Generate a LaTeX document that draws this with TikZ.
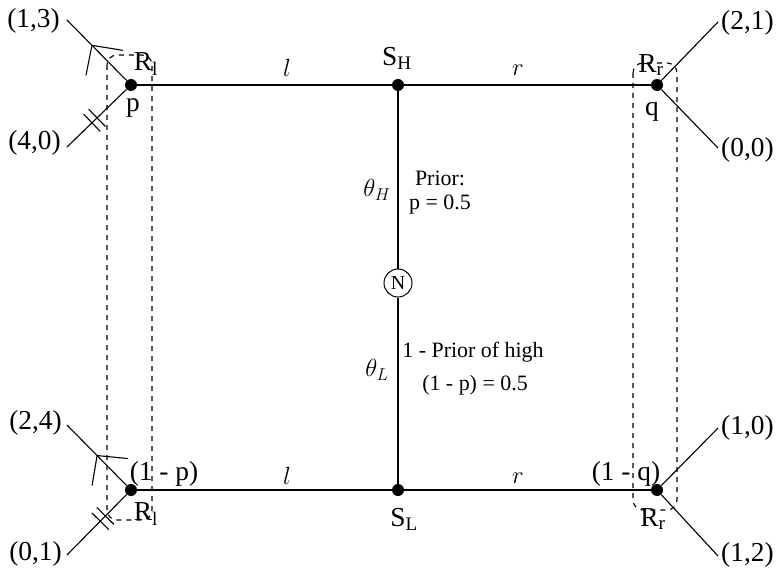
\documentclass[tikz,border=0pt]{standalone}
\usepackage{fontspec}
\setmainfont{Liberation Serif}
\usetikzlibrary{calc}
\begin{document}
\begin{tikzpicture}[x=1bp,y=-1bp,
  edge/.style={line width=1.1bp},
  dot/.style={circle,fill=black,inner sep=0pt,minimum size=12bp},
  lab/.style={font=\fontsize{27.5}{30}\selectfont, inner sep=0pt},
  small/.style={font=\fontsize{22}{24}\selectfont, inner sep=0pt},
  greek/.style={font=\fontsize{25}{27}\selectfont, inner sep=0pt},
  infoset/.style={draw, dash pattern=on 5bp off 5bp, line width=1.1bp, rounded corners=10bp}]
\useasboundingbox (0,0) rectangle (780,575);

% information sets
\draw[infoset] (107,55) rectangle (152,520);
\draw[infoset] (633,63) rectangle (677,510);

% decision nodes
\node[dot] (p) at (131,85) {};
\node[dot] (sh) at (398,85) {};
\node[dot] (q) at (657,85) {};
\node[dot] (pl) at (131,490) {};
\node[dot] (sl) at (398,490) {};
\node[dot] (ql) at (657,490) {};
\node[circle,draw,fill=white,line width=1bp,minimum size=28bp,inner sep=0pt,
      font=\fontsize{20}{21}\selectfont] (n) at (398,283) {N};

% terminal ends
\coordinate (e13) at (67,20);
\coordinate (e40) at (67,147);
\coordinate (e24) at (67,425);
\coordinate (e01) at (67,555);
\coordinate (e21) at (718,22);
\coordinate (e00) at (718,148);
\coordinate (e10) at (718,428);
\coordinate (e12) at (718,556);

% edges
\draw[edge] (p) -- (sh) -- (q);
\draw[edge] (pl) -- (sl) -- (ql);
\draw[edge] (sh) -- (n) -- (sl);
\draw[edge] (p) -- (e13);
\draw[edge] (p) -- (e40);
\draw[edge] (pl) -- (e24);
\draw[edge] (pl) -- (e01);
\draw[edge] (q) -- (e21);
\draw[edge] (q) -- (e00);
\draw[edge] (ql) -- (e10);
\draw[edge] (ql) -- (e12);

% chevrons
\coordinate (c13) at ($(p)!0.61!(e13)$);
\draw[edge] ($(c13)+(-6,30)$) -- (c13) -- ($(c13)+(31,5)$);
\coordinate (c24) at ($(pl)!0.53!(e24)$);
\draw[edge] ($(c24)+(-5,30)$) -- (c24) -- ($(c24)+(31,3)$);

% double ticks
\foreach \t in {0.53,0.61}{
  \coordinate (m) at ($(p)!\t!(e40)$);
  \draw[edge] ($(m)!12bp!90:(p)$) -- ($(m)!12bp!-90:(p)$);
}
\foreach \t in {0.40,0.48}{
  \coordinate (m) at ($(pl)!\t!(e01)$);
  \draw[edge] ($(m)!12bp!90:(pl)$) -- ($(m)!12bp!-90:(pl)$);
}

% payoffs
\node[lab,anchor=east] (l13) at (60,21) {(1,3)};
\node[lab,anchor=east] (l40) at (61,143) {(4,0)};
\node[lab,anchor=east] (l24) at (62,423) {(2,4)};
\node[lab,anchor=east] (l01) at (62,554) {(0,1)};
\node[lab,anchor=west] (l21) at (721,23) {(2,1)};
\node[lab,anchor=west] (l00) at (721,150) {(0,0)};
\node[lab,anchor=west] (l10) at (721,428) {(1,0)};
\node[lab,anchor=west] (l12) at (721,555) {(1,2)};

% node labels
\node[lab] (rl1) at (146,64) {R\textsubscript{l}};
\node[lab] (pp) at (133,108) {p};
\node[lab] (rr1) at (651,65) {R\textsubscript{r}};
\node[lab] (qq) at (652,112) {q};
\node[lab] (pq) at (164,474) {(1 - p)};
\node[lab] (rl2) at (146,514) {R\textsubscript{l}};
\node[lab] (qq2) at (626,474) {(1 - q)};
\node[lab] (rr2) at (653,519) {R\textsubscript{r}};
\node[lab] (shl) at (397,58) {S\textsubscript{H}};
\node[lab] (sll) at (404,519) {S\textsubscript{L}};
\node[lab] (lt) at (287,68) {$l$};
\node[lab] (rt) at (518,70) {$r$};
\node[lab] (lb) at (287,476) {$l$};
\node[lab] (rb) at (518,478) {$r$};

% center texts
\node[greek] (th) at (377,190) {$\theta_H$};
\node[small] (pr1) at (440,178) {Prior:};
\node[small] (pr2) at (440,205) {p = 0.5};
\node[greek] (tl) at (377,370) {$\theta_L$};
\node[small] (pr3) at (473,352) {1 - Prior of high};
\node[small] (pr4) at (475,385) {(1 - p) = 0.5};
\end{tikzpicture}
\end{document}
